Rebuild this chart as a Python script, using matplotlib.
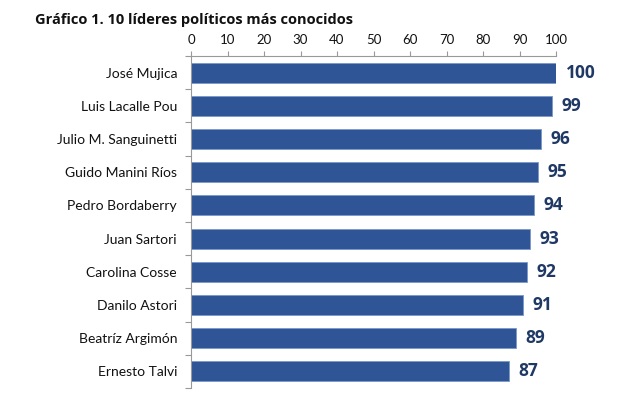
import matplotlib
matplotlib.use("Agg")
import matplotlib.pyplot as plt

names = ["José Mujica", "Luis Lacalle Pou", "Julio M. Sanguinetti", "Guido Manini Ríos",
         "Pedro Bordaberry", "Juan Sartori", "Carolina Cosse", "Danilo Astori",
         "Beatríz Argimón", "Ernesto Talvi"]
values = [100, 99, 96, 95, 94, 93, 92, 91, 89, 87]
xticks = [0, 10, 20, 30, 40, 50, 60, 70, 80, 90, 100]

plt.rcParams['font.family'] = ['Lato', 'DejaVu Sans']

fig = plt.figure(figsize=(6.41, 3.99), dpi=100)
ax = fig.add_axes([191/641, 1-388/399, (556-191)/641, (388-56)/399])

pos = list(range(len(names)))
ax.barh(pos, values, height=0.6, color="#2f5597", edgecolor="#7a98c8", linewidth=0.6)
ax.set_ylim(len(names)-0.5, -0.5)
ax.set_xlim(0, 100)

ax.xaxis.tick_top()
ax.set_xticks(xticks)
ax.set_xticklabels([str(t) for t in xticks], fontsize=9.5, color="#111111")
ax.tick_params(axis='x', direction='out', length=3.5, color="#999999", pad=4)

ax.set_yticks([p + 0.5 for p in [-1] + pos])
ax.set_yticklabels([])
ax.set_yticks(pos, minor=True)
ax.set_yticklabels(names, minor=True, fontsize=10, color="#111111")
ax.tick_params(axis='y', which='major', direction='out', length=4, color="#999999")
ax.tick_params(axis='y', which='minor', length=0, pad=10)

for s in ['right', 'bottom']:
    ax.spines[s].set_visible(False)
for s in ['top', 'left']:
    ax.spines[s].set_color("#999999")
    ax.spines[s].set_linewidth(0.8)

for p, v in zip(pos, values):
    ax.text(v + 2.6, p, str(v), va='center', ha='left', fontsize=12.5,
            fontweight='bold', color="#1f3864", family=['Open Sans', 'DejaVu Sans'])

fig.text(35/641, 1-20/399, "Gráfico 1. 10 líderes políticos más conocidos",
         fontsize=10.5, fontweight='bold', va='center', ha='left', color="#111111",
         family=['Open Sans', 'DejaVu Sans'])

fig.savefig("out.png", dpi=100)
